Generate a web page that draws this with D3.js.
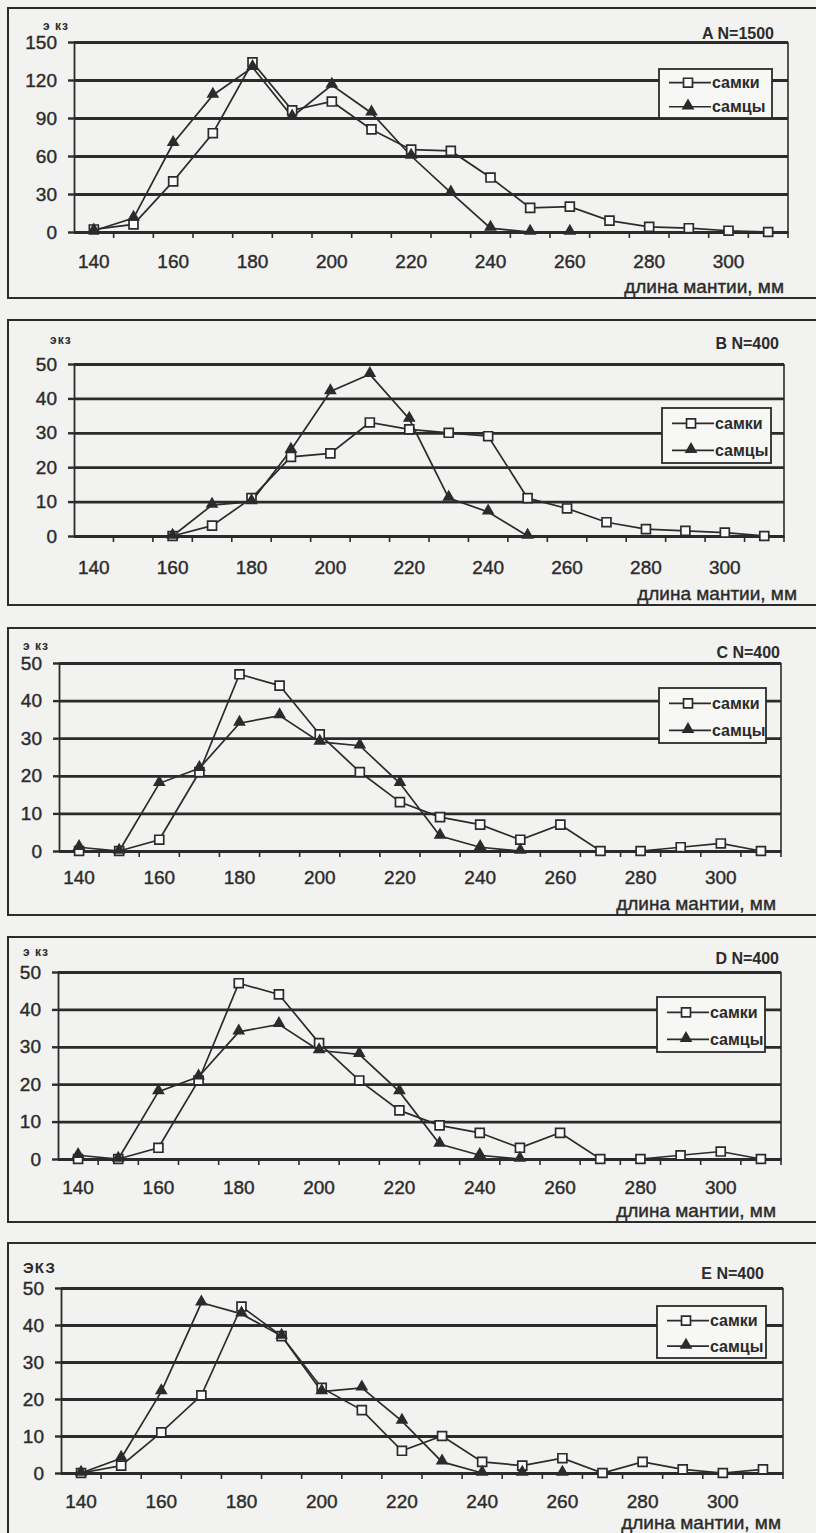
<!DOCTYPE html>
<html>
<head>
<meta charset="utf-8">
<script src="https://cdn.jsdelivr.net/npm/d3@7"></script>
<style>
  body { margin: 0; background: #f2f2f0; }
  svg { display: block; font-family: "Liberation Sans", Arial, sans-serif; }
</style>
</head>
<body>
<div id="charts"></div>
<script>
// mantle length classes, mm
var categories = [140, 150, 160, 170, 180, 190, 200, 210, 220, 230, 240, 250, 260, 270, 280, 290, 300, 310];
var xTickLabels = [140, 160, 180, 200, 220, 240, 260, 280, 300];
var yTicksA = [0, 30, 60, 90, 120, 150];
var yTicksBE = [0, 10, 20, 30, 40, 50];

// A N=1500
var femalesA = [2, 6, 40, 78, 134, 96, 103, 81, 65, 64, 43, 19, 20, 9, 4, 3, 1, 0];
var malesA = [1, 11, 70, 108, 130, 91, 116, 94, 60, 31, 3, 0, 0, null, null, null, null, null];
// B N=400
var femalesB = [null, null, 0, 3, 11, 23, 24, 33, 31, 30, 29, 11, 8, 4, 2, 1.5, 1, 0];
var malesB = [null, null, 0, 9, 10, 25, 42, 47, 34, 11, 7, 0, null, null, null, null, null, null];
// C N=400
var femalesC = [0, 0, 3, 21, 47, 44, 31, 21, 13, 9, 7, 3, 7, 0, 0, 1, 2, 0];
var malesC = [1, 0, 18, 22, 34, 36, 29, 28, 18, 4, 1, 0, null, null, null, null, null, null];
// D N=400
var femalesD = [0, 0, 3, 21, 47, 44, 31, 21, 13, 9, 7, 3, 7, 0, 0, 1, 2, 0];
var malesD = [1, 0, 18, 22, 34, 36, 29, 28, 18, 4, 1, 0, null, null, null, null, null, null];
// E N=400
var femalesE = [0, 2, 11, 21, 45, 37, 23, 17, 6, 10, 3, 2, 4, 0, 3, 1, 0, 1];
var malesE = [0, 4, 22, 46, 43, 37, 22, 23, 14, 3, 0, 0, 0, null, null, null, null, null];

var seriesNames = ["самки", "самцы"];

var W = 816, H = 1533;
var ink = "#2b2b2b";

var charts = [
    { title: "A N=1500", unit: "э кз", yTicks: yTicksA, f: femalesA, m: malesA,
      frame: [8, 298], plot: { l: 74, r: 788, t: 42, b: 232 }, titlePos: [774, 33], unitPos: [43, 26],
      labelOff: 30, axisTitle: [784, 286], legend: { x: 659, y: 69, w: 113, h: 49 } },
    { title: "B N=400", unit: "экз", yTicks: yTicksBE, f: femalesB, m: malesB,
      frame: [320, 605], plot: { l: 74, r: 784, t: 364, b: 536 }, titlePos: [779, 343], unitPos: [50, 340],
      labelOff: 32, axisTitle: [797, 593], legend: { x: 662, y: 408, w: 109, h: 55 } },
    { title: "C N=400", unit: "э кз", yTicks: yTicksBE, f: femalesC, m: malesC,
      frame: [628, 915], plot: { l: 59, r: 781, t: 663, b: 851 }, titlePos: [780, 652], unitPos: [23, 646],
      labelOff: 27, axisTitle: [776, 903], legend: { x: 659, y: 688, w: 107, h: 55 } },
    { title: "D N=400", unit: "э кз", yTicks: yTicksBE, f: femalesD, m: malesD,
      frame: [937, 1222], plot: { l: 58, r: 781, t: 972, b: 1159 }, titlePos: [779, 958], unitPos: [23, 952],
      labelOff: 29, axisTitle: [776, 1210], legend: { x: 657, y: 997, w: 108, h: 55 } },
    { title: "E N=400", unit: "ЭКЗ", yTicks: yTicksBE, f: femalesE, m: malesE,
      frame: [1243, 1545], plot: { l: 61, r: 783, t: 1288, b: 1473 }, titlePos: [764, 1273], unitPos: [23, 1268],
      labelOff: 29, axisTitle: [781, 1522], legend: { x: 657, y: 1306, w: 109, h: 52 } }
];

var svg = d3.select("#charts").append("svg")
    .attr("width", W)
    .attr("height", H);

svg.append("rect").attr("width", W).attr("height", H).attr("fill", "#f2f2f0");

var square = d3.symbol().type(d3.symbolSquare).size(80);
var triangle = d3.symbol().type(d3.symbolTriangle).size(70);

charts.forEach(function (c) {
    var p = c.plot;
    var g = svg.append("g");

    // outer frame
    g.append("rect")
        .attr("x", 8).attr("y", c.frame[0])
        .attr("width", 830).attr("height", c.frame[1] - c.frame[0])
        .attr("fill", "none").attr("stroke", ink).attr("stroke-width", 2);

    var x = d3.scaleBand().domain(categories).range([p.l, p.r]);
    var bw = x.bandwidth();
    var cx = d => x(d) + bw / 2;
    var y = d3.scaleLinear().domain([0, d3.max(c.yTicks)]).range([p.b, p.t]);

    // gridlines
    g.append("g")
        .attr("transform", `translate(${p.l},0)`)
        .call(d3.axisLeft(y).tickValues(c.yTicks).tickSize(-(p.r - p.l)).tickFormat(""))
        .call(s => s.select(".domain").remove())
        .selectAll("line").attr("stroke", ink).attr("stroke-width", 2.8);

    // plot area right border
    g.append("line")
        .attr("x1", p.r).attr("x2", p.r).attr("y1", p.t).attr("y2", p.b)
        .attr("stroke", ink).attr("stroke-width", 1.6);

    // y axis
    var yAxis = g.append("g")
        .attr("transform", `translate(${p.l},0)`)
        .call(d3.axisLeft(y).tickValues(c.yTicks).tickSize(6).tickPadding(11).tickSizeOuter(0));
    yAxis.select(".domain").attr("stroke", ink).attr("stroke-width", 1.8);
    yAxis.selectAll("line").attr("stroke", ink).attr("stroke-width", 2.4);
    yAxis.selectAll("text").attr("font-size", "19px").attr("fill", ink)
        .attr("stroke", ink).attr("stroke-width", 0.4);

    // x axis (category axis, ticks between categories)
    var xAxis = g.append("g")
        .attr("transform", `translate(0,${p.b})`)
        .call(d3.axisBottom(x).tickSize(6).tickPadding(c.labelOff - 13).tickSizeOuter(0)
            .tickFormat(d => xTickLabels.indexOf(d) >= 0 ? d : ""));
    xAxis.select(".domain").attr("stroke", ink).attr("stroke-width", 2.4);
    xAxis.selectAll(".tick line")
        .attr("x1", bw / 2).attr("x2", bw / 2)
        .attr("stroke", ink).attr("stroke-width", 1.6);
    xAxis.selectAll("text").attr("font-size", "19px").attr("fill", ink)
        .attr("stroke", ink).attr("stroke-width", 0.4);

    // labels
    g.append("text")
        .attr("x", c.axisTitle[0]).attr("y", c.axisTitle[1]).attr("dy", "0.35em")
        .attr("text-anchor", "end").attr("font-size", "19px").attr("fill", ink)
        .attr("stroke", ink).attr("stroke-width", 0.4)
        .text("длина мантии, мм");

    g.append("text")
        .attr("x", c.titlePos[0]).attr("y", c.titlePos[1]).attr("dy", "0.35em")
        .attr("text-anchor", "end").attr("font-size", "16px").attr("font-weight", "bold")
        .attr("fill", ink)
        .text(c.title);

    g.append("text")
        .attr("x", c.unitPos[0]).attr("y", c.unitPos[1]).attr("dy", "0.35em")
        .attr("font-size", c.unit === "ЭКЗ" ? "15px" : "12px").attr("font-weight", "bold")
        .attr("letter-spacing", "1px").attr("fill", ink)
        .text(c.unit);

    // series
    var line = d3.line()
        .defined(d => d.v !== null)
        .x(d => cx(d.k))
        .y(d => y(d.v));

    var fData = categories.map((k, i) => ({ k: k, v: c.f[i] }));
    var mData = categories.map((k, i) => ({ k: k, v: c.m[i] }));

    g.append("path").datum(fData).attr("d", line)
        .attr("fill", "none").attr("stroke", ink).attr("stroke-width", 1.7);
    g.append("path").datum(mData).attr("d", line)
        .attr("fill", "none").attr("stroke", ink).attr("stroke-width", 1.7);

    g.selectAll(".fm").data(fData.filter(d => d.v !== null)).enter()
        .append("path").attr("class", "fm")
        .attr("transform", d => `translate(${cx(d.k)},${y(d.v)})`)
        .attr("d", square)
        .attr("fill", "#fafafa").attr("stroke", ink).attr("stroke-width", 1.7);

    g.selectAll(".mm").data(mData.filter(d => d.v !== null)).enter()
        .append("path").attr("class", "mm")
        .attr("transform", d => `translate(${cx(d.k)},${y(d.v) - 1})`)
        .attr("d", triangle)
        .attr("fill", ink);

    // legend
    var L = c.legend;
    var lg = g.append("g").attr("transform", `translate(${L.x},${L.y})`);
    lg.append("rect").attr("width", L.w).attr("height", L.h)
        .attr("fill", "#f7f7f5").attr("stroke", ink).attr("stroke-width", 1.8);
    seriesNames.forEach(function (name, i) {
        var ly = L.h * (i === 0 ? 0.28 : 0.77);
        lg.append("line").attr("x1", 10).attr("x2", 52).attr("y1", ly).attr("y2", ly)
            .attr("stroke", ink).attr("stroke-width", 1.7);
        lg.append("path")
            .attr("transform", `translate(29,${i === 0 ? ly : ly - 1})`)
            .attr("d", i === 0 ? square : triangle)
            .attr("fill", i === 0 ? "#fafafa" : ink)
            .attr("stroke", i === 0 ? ink : "none").attr("stroke-width", 1.7);
        lg.append("text").attr("x", 53).attr("y", ly).attr("dy", "0.35em")
            .attr("font-size", "16px").attr("font-weight", "bold").attr("fill", ink)
            .text(name);
    });
});
</script>
</body>
</html>
